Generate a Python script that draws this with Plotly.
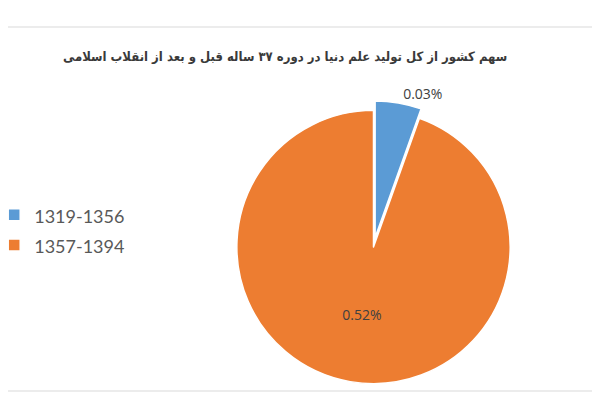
import plotly.graph_objects as go

# data
periods = ['1319-1356', '1357-1394']
shares = [0.03, 0.52]
share_labels = ['0.03%', '0.52%']
slice_colors = ['#5B9BD5', '#ED7D31']
chart_title = 'سهم کشور از کل تولید علم دنیا در دوره ۳۷ ساله قبل و بعد از انقلاب اسلامی'

# the page body adds an 8px margin, so the layout below is shifted back by that
# bigger legend font only to get the wider row spacing, the text itself stays 18px
legend_names = ['<span style="font-size:18px">%s</span>' % p for p in periods]

fig = go.Figure()

fig.add_trace(go.Pie(
    labels=legend_names,
    values=shares,
    text=share_labels,
    textinfo='text',
    textposition=['outside', 'inside'],
    textfont=dict(family='Open Sans', size=14, color='#404040'),
    insidetextorientation='horizontal',
    marker=dict(colors=slice_colors, line=dict(color='white', width=1.5)),
    pull=[0.07, 0],
    sort=False,
    direction='clockwise',
    rotation=0,
    domain=dict(x=[0.3654, 0.8529], y=[0.037, 0.768]),
    hoverinfo='label+text',
))

fig.update_layout(
    width=600,
    height=400,
    margin=dict(l=0, r=0, t=0, b=0, autoexpand=False),
    paper_bgcolor='white',
    plot_bgcolor='white',
    title=dict(
        text='<b>' + chart_title + '</b>',
        font=dict(family='DejaVu Sans Condensed, DejaVu Sans', size=13, color='#3a3a3a'),
        x=0.462, xanchor='center',
        y=0.88, yanchor='middle',
    ),
    legend=dict(
        x=-0.023, xanchor='left',
        y=0.445, yanchor='middle',
        font=dict(family='Lato', size=21, color='#595959'),
        bgcolor='rgba(0,0,0,0)',
    ),
    shapes=[dict(
        type='rect', xref='paper', yref='paper',
        x0=-0.05, x1=0.975, y0=0.0425, y1=0.9525,
        line=dict(color='#d9d9d9', width=1),
    )],
)

fig.write_html('out.html')
